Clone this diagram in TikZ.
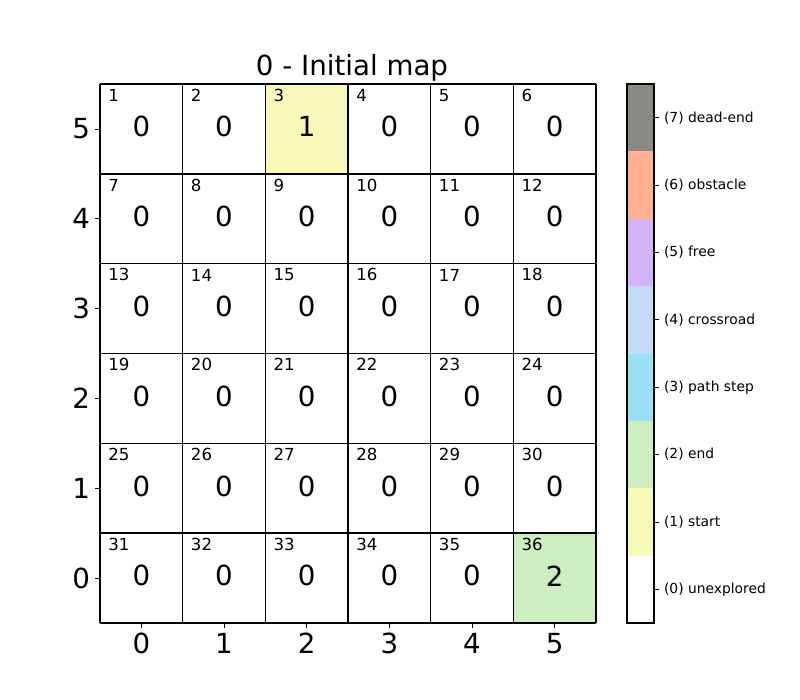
\documentclass[tikz,border=0pt]{standalone}
\usepackage{fontspec}
\setmainfont{DejaVu Sans}
\definecolor{cunexp}{HTML}{FFFFFF}
\definecolor{cstart}{HTML}{F8F8B8}
\definecolor{cend}{HTML}{CCEEC0}
\definecolor{cpath}{HTML}{99E0F5}
\definecolor{ccross}{HTML}{C5DAF8}
\definecolor{cfree}{HTML}{D2B4F8}
\definecolor{cobst}{HTML}{FFB194}
\definecolor{cdead}{HTML}{8A8A84}
\tikzset{
  cellline/.style={draw=black, line width=1pt},
  valtext/.style={inner sep=0pt, font=\fontsize{20}{22}\selectfont},
  idxtext/.style={inner sep=0pt, anchor=south west, font=\fontsize{12}{14}\selectfont},
  ticktext/.style={inner sep=0pt, font=\fontsize{20}{22}\selectfont},
  cbtext/.style={inner sep=0pt, anchor=west, font=\fontsize{10}{12}\selectfont},
  tickline/.style={draw=black, line width=0.6pt},
}
\begin{document}
\begin{tikzpicture}[x=0.72bp,y=-0.72bp]
\useasboundingbox (0,0) rectangle (800,700);
\fill[white] (0,0) rectangle (800,700);
% cells
\foreach \r in {0,...,5}{
  \foreach \c in {0,...,5}{
    \pgfmathsetmacro\lx{100+\c*82.667}
    \pgfmathsetmacro\ty{84+\r*89.833}
    \pgfmathsetmacro\rx{\lx+82.667}
    \pgfmathsetmacro\by{\ty+89.833}
    \pgfmathsetmacro\cx{\lx+41.333}
    \pgfmathsetmacro\cy{\ty+42.6}
    \pgfmathtruncatemacro\idx{\r*6+\c+1}
    \ifnum\idx=3 \def\val{1}\def\col{cstart}\else
      \ifnum\idx=36 \def\val{2}\def\col{cend}\else
        \def\val{0}\def\col{cunexp}\fi\fi
    \fill[\col] (\lx,\ty) rectangle (\rx,\by);
    \node[valtext] (v\idx) at (\cx,\cy) {\val};
    \node[idxtext] (i\idx) at (\lx+8,\ty+17.7) {\idx};
  }
}
\foreach \k in {0,...,6}{
  \draw[cellline] (100+\k*82.667,84) -- (100+\k*82.667,623);
  \draw[cellline] (100,84+\k*89.833) -- (596,84+\k*89.833);
}
% axis ticks
\foreach \k in {0,...,5}{
  \pgfmathsetmacro\tx{141.333+\k*82.667}
  \draw[tickline] (\tx,623) -- (\tx,627.9);
  \node[ticktext, anchor=north] (xt\k) at (\tx,632.8) {\k};
  \pgfmathsetmacro\ty{128.917+(5-\k)*89.833}
  \draw[tickline] (100,\ty) -- (95.1,\ty);
  \node[ticktext, anchor=east] (yt\k) at (90.2,\ty) {\k};
}
% title
\node[inner sep=0pt, anchor=base, font=\fontsize{20}{22}\selectfont] (title) at (352,76) {0 - Initial map};
% colorbar
\foreach \k/\col/\lab in {0/cunexp/(0) unexplored, 1/cstart/(1) start, 2/cend/(2) end, 3/cpath/(3) path step, 4/ccross/(4) crossroad, 5/cfree/(5) free, 6/cobst/(6) obstacle, 7/cdead/(7) dead-end}{
  \pgfmathsetmacro\yb{623-\k*67.375}
  \pgfmathsetmacro\yt{623-(\k+1)*67.375}
  \pgfmathsetmacro\ym{623-(\k+0.5)*67.375}
  \fill[\col] (627,\yt) rectangle (654,\yb);
  \draw[tickline] (654,\ym) -- (658.9,\ym);
  \node[cbtext] (cb\k) at (663.8,\ym) {\lab};
}
\draw[cellline] (627,84) rectangle (654,623);
\end{tikzpicture}
\end{document}
